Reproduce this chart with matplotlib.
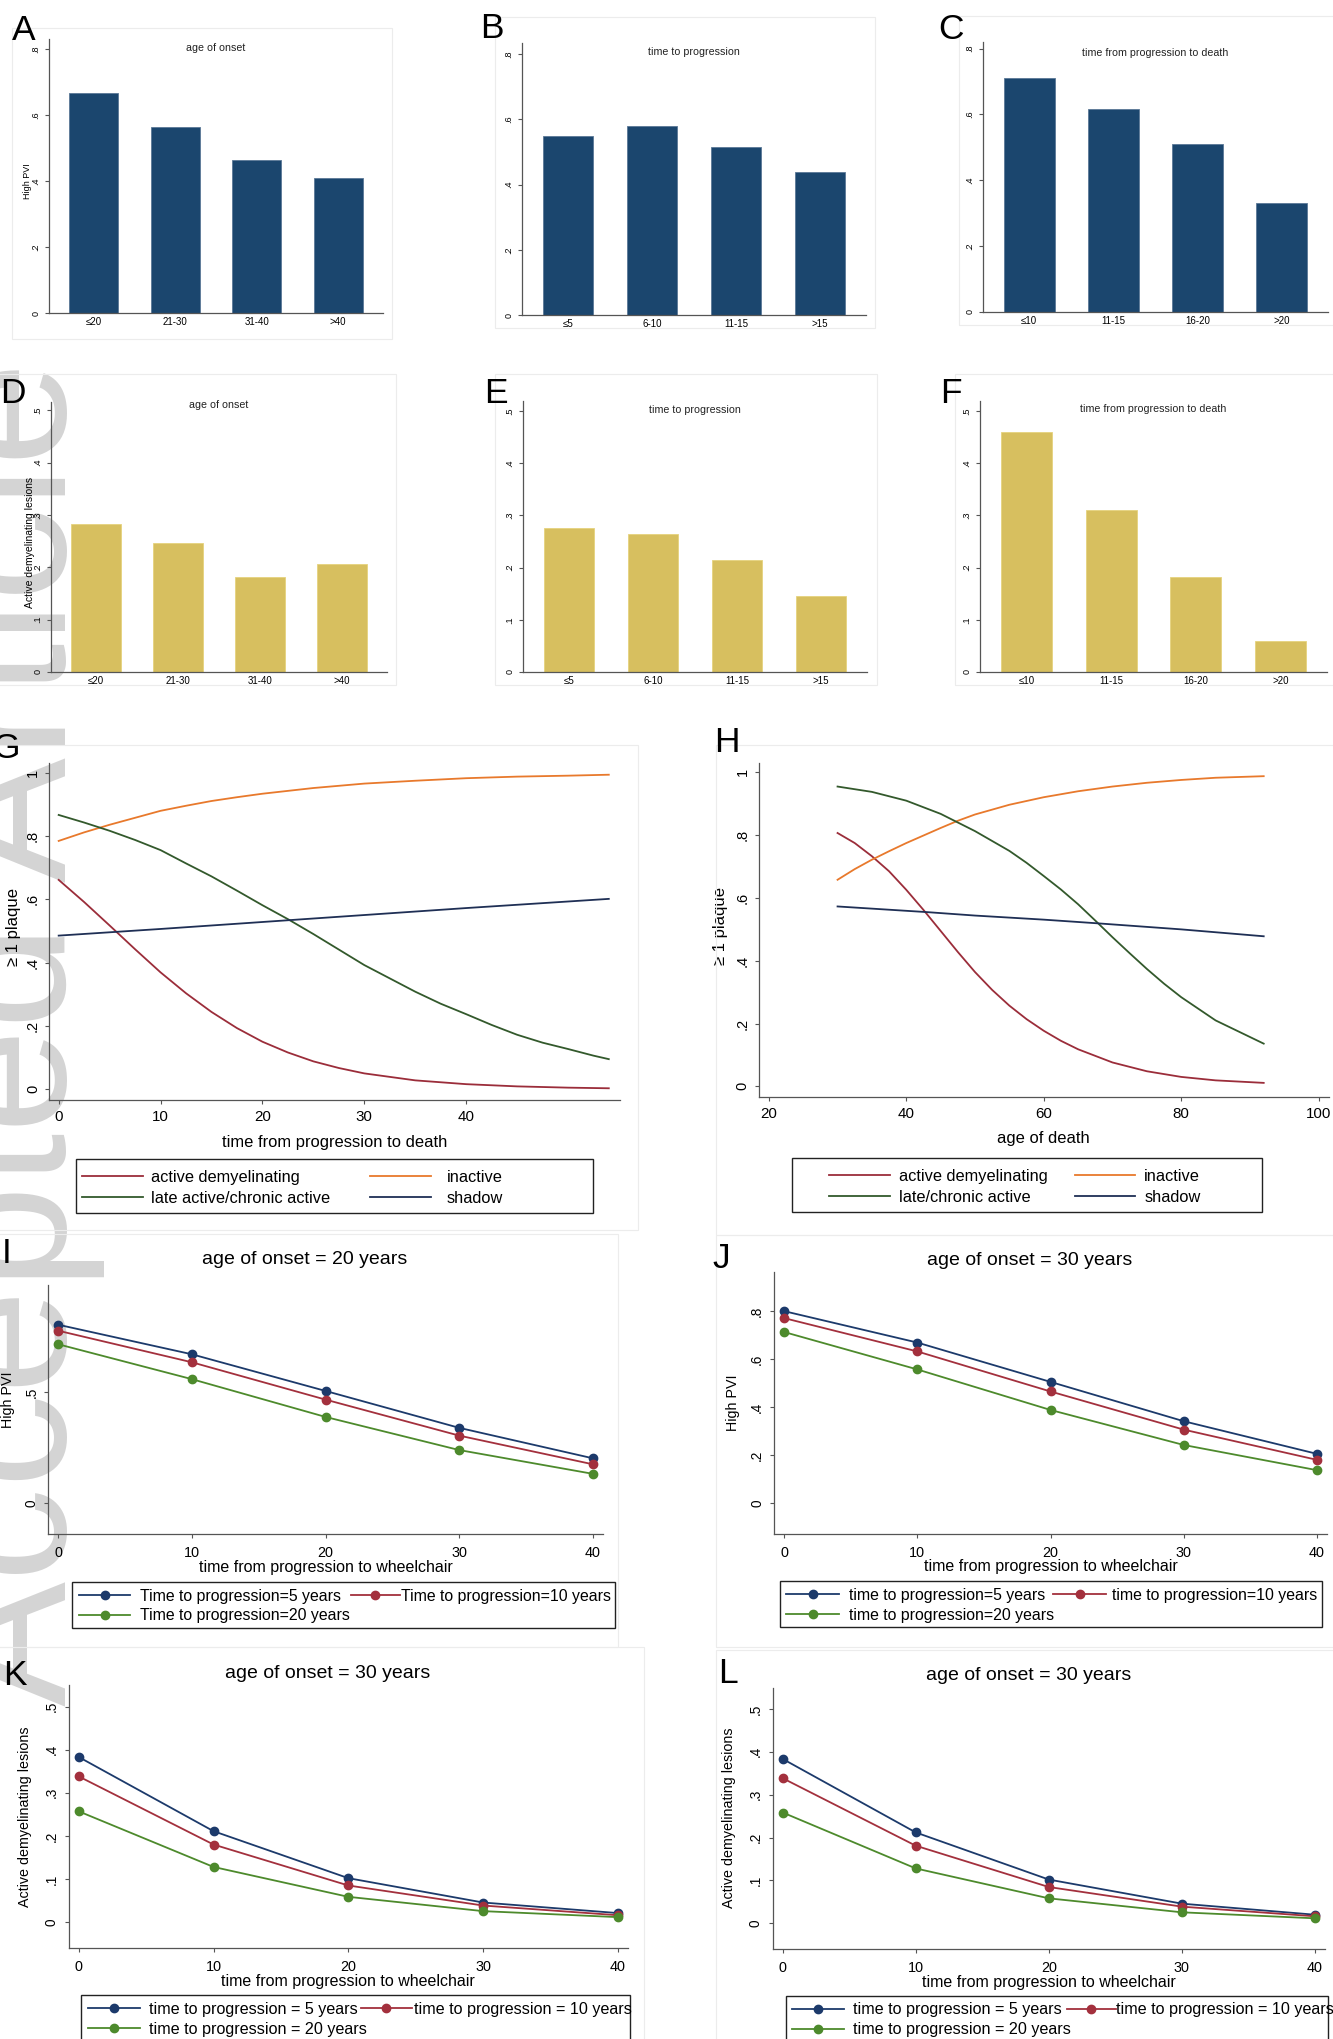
import matplotlib.pyplot as plt
from matplotlib.lines import Line2D
from matplotlib.patches import Rectangle

plt.rcParams['font.family'] = ['Liberation Sans', 'DejaVu Sans']

# ---- bar panels (A-F) ----
onset_groups = ['≤20', '21-30', '31-40', '>40']
prog_groups = ['≤5', '6-10', '11-15', '>15']
death_groups = ['≤10', '11-15', '16-20', '>20']

pvi_onset = [0.667, 0.562, 0.462, 0.408]
pvi_prog = [0.550, 0.579, 0.516, 0.437]
pvi_death = [0.712, 0.617, 0.509, 0.332]
active_onset = [0.283, 0.246, 0.181, 0.207]
active_prog = [0.276, 0.265, 0.214, 0.145]
active_death = [0.460, 0.310, 0.182, 0.060]

pvi_ticks = [0, 0.2, 0.4, 0.6, 0.8]
pvi_ticklabels = ['0', '.2', '.4', '.6', '.8']
active_ticks = [0, 0.1, 0.2, 0.3, 0.4, 0.5]
active_ticklabels = ['0', '.1', '.2', '.3', '.4', '.5']

# ---- G: plaque probability vs time from progression to death ----
g_active_x = [0, 2.5, 5, 7.5, 10, 12.5, 15, 17.5, 20, 22.5, 25, 27.5, 30, 35, 40, 45, 50, 54]
g_active_y = [0.661, 0.591, 0.517, 0.442, 0.369, 0.303, 0.244, 0.193, 0.150, 0.116, 0.088,
              0.067, 0.050, 0.028, 0.016, 0.009, 0.005, 0.003]
g_inactive_x = [0, 2.5, 5, 7.5, 10, 12.5, 15, 17.5, 20, 25, 30, 35, 40, 45, 50, 54]
g_inactive_y = [0.784, 0.811, 0.835, 0.857, 0.879, 0.895, 0.910, 0.922, 0.933, 0.951, 0.965,
                0.974, 0.982, 0.987, 0.990, 0.993]
g_chronic_x = [0, 2.5, 5, 7.5, 10, 12.5, 15, 17.5, 20, 22.5, 25, 27.5, 30, 32.5, 35, 37.5,
               40, 42.5, 45, 47.5, 50, 52.5, 54]
g_chronic_y = [0.866, 0.842, 0.816, 0.787, 0.755, 0.713, 0.672, 0.627, 0.581, 0.537, 0.490,
               0.441, 0.392, 0.350, 0.308, 0.270, 0.237, 0.203, 0.172, 0.147, 0.127, 0.106,
               0.095]
g_shadow_x = [0, 10, 20, 30, 40, 54]
g_shadow_y = [0.485, 0.506, 0.528, 0.550, 0.572, 0.601]

# ---- H: plaque probability vs age of death ----
h_active_x = [30, 32.5, 35, 37.5, 40, 42.5, 45, 47.5, 50, 52.5, 55, 57.5, 60, 62.5, 65, 70,
              75, 80, 85, 92]
h_active_y = [0.807, 0.775, 0.733, 0.685, 0.626, 0.562, 0.495, 0.428, 0.364, 0.307, 0.257,
              0.214, 0.177, 0.145, 0.118, 0.076, 0.048, 0.030, 0.019, 0.011]
h_inactive_x = [30, 32.5, 35, 37.5, 40, 42.5, 45, 47.5, 50, 55, 60, 65, 70, 75, 80, 85, 92]
h_inactive_y = [0.658, 0.692, 0.722, 0.749, 0.775, 0.799, 0.823, 0.846, 0.866, 0.897, 0.921,
                0.940, 0.955, 0.967, 0.976, 0.983, 0.988]
h_chronic_x = [30, 35, 40, 45, 50, 55, 57.5, 60, 62.5, 65, 67.5, 70, 72.5, 75, 77.5, 80, 85, 92]
h_chronic_y = [0.955, 0.938, 0.910, 0.868, 0.813, 0.750, 0.712, 0.670, 0.627, 0.580, 0.528,
               0.475, 0.424, 0.374, 0.327, 0.284, 0.210, 0.136]
h_shadow_x = [30, 43, 50, 60, 68, 80, 92]
h_shadow_y = [0.573, 0.555, 0.544, 0.531, 0.519, 0.500, 0.478]

# ---- I-L: predicted probability vs time from progression to wheelchair ----
wheel_time = [0, 10, 20, 30, 40]
i_prog5 = [0.804, 0.671, 0.506, 0.340, 0.203]
i_prog10 = [0.777, 0.635, 0.467, 0.305, 0.176]
i_prog20 = [0.716, 0.559, 0.389, 0.240, 0.133]
j_prog5 = [0.801, 0.670, 0.506, 0.342, 0.206]
j_prog10 = [0.772, 0.633, 0.466, 0.307, 0.181]
j_prog20 = [0.714, 0.558, 0.389, 0.243, 0.138]
k_prog5 = [0.383, 0.211, 0.102, 0.0455, 0.021]
k_prog10 = [0.338, 0.180, 0.085, 0.0385, 0.016]
k_prog20 = [0.257, 0.128, 0.0587, 0.0255, 0.0116]
l_prog5 = [0.3835, 0.212, 0.102, 0.0458, 0.020]
l_prog10 = [0.3385, 0.181, 0.0846, 0.0388, 0.0163]
l_prog20 = [0.2585, 0.128, 0.0582, 0.0256, 0.0116]

NAVY_BAR, NAVY_EDGE = '#1b466e', '#5a7896'
GOLD_BAR, GOLD_EDGE = '#d7bf5f', '#e6d37e'
C_ACTIVE, C_INACTIVE, C_CHRONIC, C_SHADOW = '#9b2d3a', '#e8792c', '#33592c', '#1f2f55'
C_P5, C_P10, C_P20 = '#1c3a6b', '#a3303d', '#4d8a2c'
AXIS = '#555555'

W, H = 1333, 2039
fig = plt.figure(figsize=(W / 100, H / 100), dpi=100)


def axes_px(left, top, right, bottom):
    ax = fig.add_axes([left / W, 1 - bottom / H, (right - left) / W, (bottom - top) / H])
    ax.patch.set_alpha(0)
    return ax


def box_px(x0, y0, x1, y1, color, lw):
    fig.add_artist(Rectangle((x0 / W, 1 - y1 / H), (x1 - x0) / W, (y1 - y0) / H,
                             transform=fig.transFigure, fill=False, ec=color, lw=lw))


def style_axes(ax, yticks, yticklabels, ysize, ypad):
    for s in ['top', 'right']:
        ax.spines[s].set_visible(False)
    for s in ['left', 'bottom']:
        ax.spines[s].set_color(AXIS)
        ax.spines[s].set_linewidth(0.9)
    ax.set_yticks(yticks)
    ax.set_yticklabels(yticklabels, rotation=90, va='center', fontsize=ysize)
    ax.tick_params(axis='y', length=3, width=0.8, color=AXIS, pad=ypad)


def bar_panel(box, groups, values, color, edge, title, title_y, ymax,
              yticks, yticklabels, ylabel=None, ylabel_x=-0.05, ylabel_size=6.5):
    ax = axes_px(*box)
    pos = list(range(len(groups)))
    ax.bar(pos, values, width=0.6, color=color, edgecolor=edge, linewidth=0.6)
    ax.set_xlim(-0.55, 3.55)
    ax.set_ylim(0, ymax)
    style_axes(ax, yticks, yticklabels, 6.5, 3)
    ax.set_xticks(pos)
    ax.set_xticklabels(groups, fontsize=7)
    ax.tick_params(axis='x', length=0, pad=3)
    ax.text(0.5, title_y, title, transform=ax.transAxes, ha='center', va='center',
            fontsize=7.7, color='#222222')
    if ylabel:
        ax.set_ylabel(ylabel, fontsize=ylabel_size)
        ax.yaxis.set_label_coords(ylabel_x, 0.48)
    return ax


def legend_column(handles, labels, x, row_y, size, hlen, tpad, spacing):
    em = size * 100 / 72
    fig.legend(handles, labels, loc='upper left',
               bbox_to_anchor=(x / W, 1 - (row_y - 0.45 * em) / H),
               frameon=False, borderpad=0, borderaxespad=0, numpoints=1,
               handlelength=hlen / em, handletextpad=tpad / em, labelspacing=spacing,
               fontsize=size)


# faint graph-region outlines around each panel
for region in [(12, 28, 392, 339), (495, 17, 875, 328), (959, 16, 1340, 325),
               (-5, 374, 396, 685), (495, 374, 877, 685), (955, 374, 1340, 685),
               (-5, 745, 638, 1230), (716, 745, 1340, 1235),
               (-5, 1234, 618, 1647), (716, 1235, 1340, 1647),
               (-5, 1647, 644, 2050), (716, 1650, 1340, 2050)]:
    box_px(*region, '#ececec', 0.8)

# ---- A-F ----
bar_panel((49, 39, 383, 313), onset_groups, pvi_onset, NAVY_BAR, NAVY_EDGE,
          'age of onset', 0.967, 0.83, pvi_ticks, pvi_ticklabels, ylabel='High PVI')
bar_panel((522, 43, 866, 315), prog_groups, pvi_prog, NAVY_BAR, NAVY_EDGE,
          'time to progression', 0.968, 0.834, pvi_ticks, pvi_ticklabels)
bar_panel((983, 42, 1328, 312), death_groups, pvi_death, NAVY_BAR, NAVY_EDGE,
          'time from progression to death', 0.958, 0.82, pvi_ticks, pvi_ticklabels)
bar_panel((51, 402, 387, 672), onset_groups, active_onset, GOLD_BAR, GOLD_EDGE,
          'age of onset', 0.99, 0.516, active_ticks, active_ticklabels,
          ylabel='Active demyelinating lesions', ylabel_x=-0.048, ylabel_size=7.5)
bar_panel((523, 401, 867, 672), prog_groups, active_prog, GOLD_BAR, GOLD_EDGE,
          'time to progression', 0.966, 0.519, active_ticks, active_ticklabels)
bar_panel((980, 401, 1327, 672), death_groups, active_death, GOLD_BAR, GOLD_EDGE,
          'time from progression to death', 0.97, 0.519, active_ticks, active_ticklabels)

# ---- G and H ----
plaque_ticks = [0, 0.2, 0.4, 0.6, 0.8, 1.0]
plaque_ticklabels = ['0', '.2', '.4', '.6', '.8', '1']

for box, xs, ys, xlim, xticks, xlabel, xl_top, yl_x, chronic_label, frame, cols in [
        ((49, 763, 620, 1100),
         (g_active_x, g_inactive_x, g_chronic_x, g_shadow_x),
         (g_active_y, g_inactive_y, g_chronic_y, g_shadow_y),
         (-0.95, 55.1), [0, 10, 20, 30, 40], 'time from progression to death', 1135, -0.049,
         'late active/chronic active', (76, 1159, 593, 1213), [(82, 61, 8.4), (369.5, 61, 16)]),
        ((758.5, 763, 1329, 1097),
         (h_active_x, h_inactive_x, h_chronic_x, h_shadow_x),
         (h_active_y, h_inactive_y, h_chronic_y, h_shadow_y),
         (18.5, 101.5), [20, 40, 60, 80, 100], 'age of death', 1131, -0.053,
         'late/chronic active', (792, 1158, 1262, 1212), [(829, 60.5, 9.3), (1074.6, 60.6, 9)])]:
    ax = axes_px(*box)
    colors = [C_ACTIVE, C_INACTIVE, C_CHRONIC, C_SHADOW]
    for x, y, c in zip(xs, ys, colors):
        ax.plot(x, y, color=c, lw=1.3, solid_joinstyle='round')
    ax.set_xlim(*xlim)
    ax.set_ylim(-0.034, 1.03)
    style_axes(ax, plaque_ticks, plaque_ticklabels, 10.5, 3.5)
    ax.set_xticks(xticks)
    ax.set_xticklabels([str(t) for t in xticks], fontsize=10.9)
    ax.tick_params(axis='x', length=3, width=0.8, color=AXIS, pad=4)
    ax.set_xlabel(xlabel, fontsize=11.9)
    ax.xaxis.set_label_coords(0.5, (box[3] - xl_top) / (box[3] - box[1]))
    ax.set_ylabel('≥ 1 plaque', fontsize=12)
    ax.yaxis.set_label_coords(yl_x, 0.512)
    handles = [Line2D([], [], color=c, lw=1.3) for c in colors]
    legend_column([handles[0], handles[2]], ['active demyelinating', chronic_label],
                  cols[0][0], frame[1] + 18, 11.8, cols[0][1], cols[0][2], 0.38)
    legend_column([handles[1], handles[3]], ['inactive', 'shadow'],
                  cols[1][0], frame[1] + 18, 11.8, cols[1][1], cols[1][2], 0.38)
    box_px(*frame, '#222222', 1.0)

# ---- I-L ----
for box, series, ylim, yticks, yticklabels, ylabel, yl_x, yl_y, title, title_y, xl_top, \
        labels, frame, cols, row_y, lsize in [
        ((48.4, 1285, 602.7, 1534), (i_prog5, i_prog10, i_prog20), (-0.138, 0.983),
         [0, 0.5], ['0', '.5'], 'High PVI', -0.061, 0.538, 'age of onset = 20 years', 1260,
         1560,
         ['Time to progression=5 years', 'Time to progression=10 years',
          'Time to progression=20 years'],
         (72.4, 1582, 614.5, 1628), [(79, 51.4, 9.7), (350.6, 49.2, 1.3)], 1595.7, 11.4),
        ((774, 1272, 1327, 1534), (j_prog5, j_prog10, j_prog20), (-0.128, 0.964),
         [0, 0.2, 0.4, 0.6, 0.8], ['0', '.2', '.4', '.6', '.8'], 'High PVI', -0.061, 0.5,
         'age of onset = 30 years', 1260, 1559,
         ['time to progression=5 years', 'time to progression=10 years',
          'time to progression=20 years'],
         (779.5, 1581, 1321.7, 1627), [(786, 53.3, 9.3), (1053.3, 52.4, 6.1)], 1595, 11.4),
        ((68.6, 1685, 628, 1948), (k_prog5, k_prog10, k_prog20), (-0.06, 0.55),
         active_ticks, active_ticklabels, 'Active demyelinating lesions', -0.066, 0.5,
         'age of onset = 30 years', 1673, 1974,
         ['time to progression = 5 years', 'time to progression = 10 years',
          'time to progression = 20 years'],
         (81, 1995, 630, 2060), [(88.4, 51.8, 8.4), (361, 50.5, 3)], 2009.3, 11.6),
        ((772.7, 1688, 1325, 1949), (l_prog5, l_prog10, l_prog20), (-0.06, 0.549),
         active_ticks, active_ticklabels, 'Active demyelinating lesions', -0.066, 0.504,
         'age of onset = 30 years', 1676, 1975,
         ['time to progression = 5 years', 'time to progression = 10 years',
          'time to progression = 20 years'],
         (786, 1996, 1328, 2060), [(792, 52, 8.5), (1066.6, 49.2, 0.5)], 2009.7, 11.6)]:
    ax = axes_px(*box)
    colors = [C_P5, C_P10, C_P20]
    for y, c in zip(series, colors):
        ax.plot(wheel_time, y, color=c, lw=1.3, marker='o', ms=6)
    ax.set_xlim(-0.75, 40.75)
    ax.set_ylim(*ylim)
    style_axes(ax, yticks, yticklabels, 9.8, 4.2)
    ax.set_xticks(wheel_time)
    ax.set_xticklabels([str(t) for t in wheel_time], fontsize=10.4)
    ax.tick_params(axis='x', length=3, width=0.8, color=AXIS, pad=5.5)
    ax.set_xlabel('time from progression to wheelchair', fontsize=11.5)
    ax.xaxis.set_label_coords(0.5, (box[3] - xl_top) / (box[3] - box[1]))
    ax.set_ylabel(ylabel, fontsize=10.3)
    ax.yaxis.set_label_coords(yl_x, yl_y)
    ax.text(0.463, 1 + (box[1] - title_y) / (box[3] - box[1]), title,
            transform=ax.transAxes, ha='center', va='center', fontsize=14)
    handles = [Line2D([], [], color=c, lw=1.3, marker='o', ms=6) for c in colors]
    legend_column([handles[0], handles[2]], [labels[0], labels[2]], cols[0][0], row_y,
                  lsize, cols[0][1], cols[0][2], 0.3)
    legend_column([handles[1]], [labels[1]], cols[1][0], row_y,
                  lsize, cols[1][1], cols[1][2], 0.3)
    box_px(*frame, '#222222', 1.0)

# journal watermark along the left margin, behind the panels
fig.text(66 / W, 1 - 1034 / H, 'Accepted Article', rotation=90, rotation_mode='anchor',
         ha='center', va='baseline', fontsize=135, color='#d4d4d4', zorder=-1)

# panel letters
for letter, x, y in [('A', 12, 40), ('B', 480, 38), ('C', 938, 39),
                     ('D', 0, 403), ('E', 484, 403), ('F', 940, 403),
                     ('G', -8, 758), ('H', 714, 752),
                     ('I', 2, 1263), ('J', 712, 1268), ('K', 3, 1685), ('L', 718, 1683)]:
    fig.text(x / W, 1 - y / H, letter, fontsize=25.5, ha='left', va='baseline', zorder=4)

fig.savefig('out.png', dpi=100)
